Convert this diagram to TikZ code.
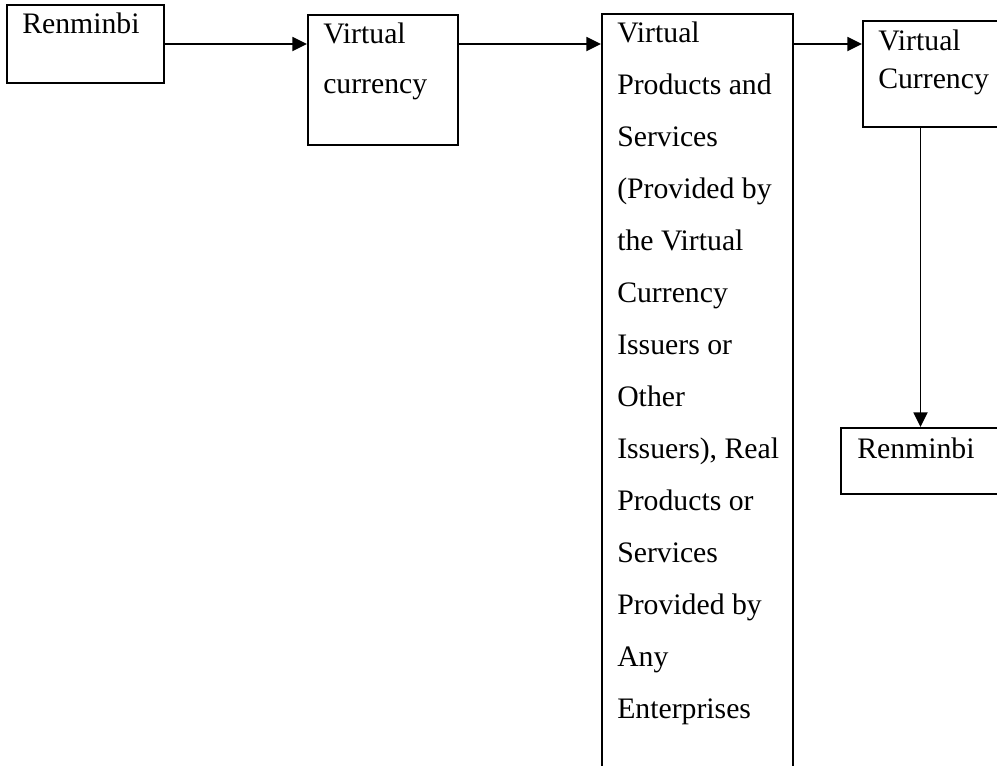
\documentclass[tikz,border=0pt]{standalone}
\usepackage{fontspec}
\setmainfont{Liberation Serif}
\usetikzlibrary{arrows.meta,fit}
\begin{document}
\begin{tikzpicture}[x=0.75pt,y=-0.75pt,
  box/.style={draw=black,line width=1.5pt,inner sep=0pt,rectangle},
  txt/.style={anchor=base west,inner sep=0pt,font=\fontsize{22.3}{26}\selectfont},
  arr/.style={line width=1.4pt,-{Triangle[length=11pt,width=10.5pt]}}]
\useasboundingbox (0,0) rectangle (997,765);
\clip (0,0) rectangle (997,765);
% boxes
\node[box,fit={(7,5) (164,83)}] (A) {};
\node[box,fit={(308,15) (458,145)}] (B) {};
\node[box,fit={(602,14) (793,800)}] (C) {};
\node[box,fit={(863,21) (1010,127)}] (D) {};
\node[box,fit={(841,428) (1000,494)}] (E) {};
% texts
\node[txt] (ta) at (22,33) {Renminbi};
\node[txt] (tb1) at (323,43) {Virtual};
\node[txt] (tb2) at (323,93) {currency};
\foreach \t [count=\i] in {Virtual,{Products and},Services,{(Provided by},{the Virtual},Currency,{Issuers or},Other,{Issuers), Real},{Products or},Services,{Provided by},Any,Enterprises}
  \node[txt] (tc\i) at (617,{42+52*(\i-1)}) {\t};
\node[txt] (td1) at (878,50) {Virtual};
\node[txt] (td2) at (878,88) {Currency};
\node[txt] (te) at (857,458) {Renminbi};
% connectors
\draw[arr] (A.east) -- (A.east -| B.west);
\draw[arr] (B.east |- A.east) -- (C.west |- A.east);
\draw[arr] (C.east |- A.east) -- (D.west |- A.east);
\draw[arr] (E.north |- D.south) -- (E.north);
\end{tikzpicture}
\end{document}
